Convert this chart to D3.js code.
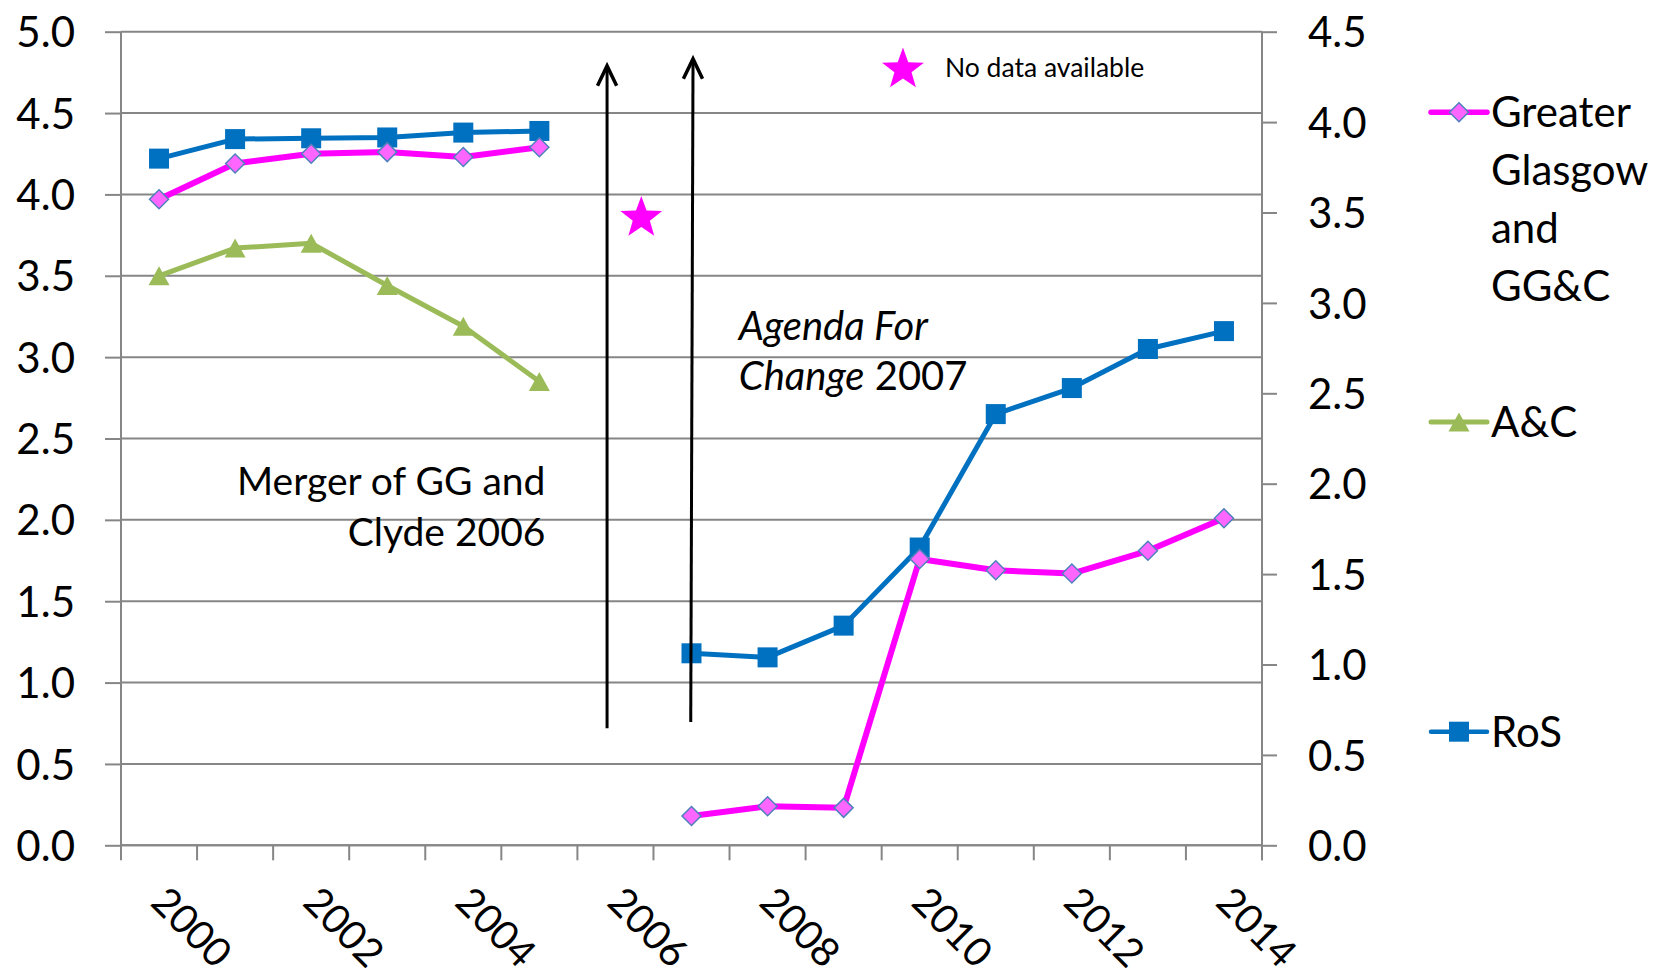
<!DOCTYPE html>
<html>
<head>
<meta charset="utf-8">
<script src="https://cdn.jsdelivr.net/npm/d3@7"></script>
<style>
  html, body { margin: 0; padding: 0; background: #fff; }
  svg { display: block; font-family: Lato, "Open Sans", sans-serif; }
</style>
</head>
<body>
<svg id="chart" width="1659" height="974"></svg>
<script>
// ---------------- data ----------------
const years = ["2000","2001","2002","2003","2004","2005","2006","2007","2008","2009","2010","2011","2012","2013","2014"];
const xTickLabels = ["2000","2002","2004","2006","2008","2010","2012","2014"];
const leftTicks = [0,0.5,1,1.5,2,2.5,3,3.5,4,4.5,5];
const rightTicks = [0,0.5,1,1.5,2,2.5,3,3.5,4,4.5];

const ggValues  = [3.97, 4.19, 4.25, 4.26, 4.23, 4.29, null, 0.18, 0.24, 0.23, 1.76, 1.69, 1.67, 1.81, 2.01];
const acValues  = [3.50, 3.67, 3.70, 3.44, 3.19, 2.85, null, null, null, null, null, null, null, null, null];
const rosValues = [4.22, 4.34, 4.345, 4.35, 4.38, 4.39, null, 1.18, 1.155, 1.35, 1.83, 2.65, 2.81, 3.05, 3.16];

const seriesNames = ["Greater Glasgow and GG&C", "A&C", "RoS"];
const legendLines = [["Greater","Glasgow","and","GG&C"],["A&C"],["RoS"]];

// annotations in data units (year position, left-axis value)
const arrowAnn = [
  {x0: 2005.89, v0: 0.72,  x1: 2005.89, v1: 4.79},
  {x0: 2006.99, v0: 0.758, x1: 2007.02, v1: 4.833}
];
const starAnn = [{x: 2006.34, v: 3.868}];
const noDataKey = {x: 2009.78, v: 4.78, label: "No data available"};
const mergerText = {x: 2005.08, v: [2.153, 1.837], lines: ["Merger of GG and", "Clyde 2006"]};
const agendaText = {x: 2007.62, v: [3.106, 2.799]};

// ---------------- layout ----------------
const svg = d3.select("#chart");
const L = 121, R = 1262, T = 31.7, B = 845.3;
const x = d3.scaleBand().domain(years).range([L, R]).padding(0);
const xLin = d3.scaleLinear().domain([1999.5, 2014.5]).range([L, R]);
const yL = d3.scaleLinear().domain([0, 5]).range([B, T]);
const yR = d3.scaleLinear().domain([0, 4.5]).range([B, T]);
const cx = d => x(d) + x.bandwidth() / 2;

const gridColor = "#868686";

// gridlines
svg.append("g").selectAll("line").data(leftTicks).join("line")
  .attr("x1", L).attr("x2", R)
  .attr("y1", d => yL(d)).attr("y2", d => yL(d))
  .attr("stroke", gridColor).attr("stroke-width", 2);

// left axis
const gLeft = svg.append("g").attr("transform", `translate(${L},0)`)
  .call(d3.axisLeft(yL).tickValues(leftTicks).tickSize(16).tickPadding(30).tickFormat(d3.format(".1f")));
gLeft.select(".domain").attr("stroke", gridColor).attr("stroke-width", 2).attr("d", `M0,${T}V${B}`);
gLeft.selectAll(".tick line").attr("stroke", gridColor).attr("stroke-width", 2);
gLeft.selectAll(".tick text").attr("font-size", 42).attr("fill", "#000").attr("font-family", "Lato").attr("dy", "0.36em");

// right axis
const gRight = svg.append("g").attr("transform", `translate(${R},0)`)
  .call(d3.axisRight(yR).tickValues(rightTicks).tickSize(15).tickPadding(31).tickFormat(d3.format(".1f")));
gRight.select(".domain").attr("stroke", gridColor).attr("stroke-width", 2).attr("d", `M0,${T}V${B + 15}`);
gRight.selectAll(".tick line").attr("stroke", gridColor).attr("stroke-width", 2);
gRight.selectAll(".tick text").attr("font-size", 42).attr("fill", "#000").attr("font-family", "Lato").attr("dy", "0.36em");

// bottom axis: ticks at category boundaries
const boundaries = years.map(d => x(d)).concat([x(years[years.length - 1]) + x.step()]);
const gBottom = svg.append("g");
gBottom.append("line").attr("x1", L).attr("x2", R).attr("y1", B).attr("y2", B)
  .attr("stroke", gridColor).attr("stroke-width", 2);
gBottom.selectAll("line.tk").data(boundaries).join("line").attr("class", "tk")
  .attr("x1", d => d).attr("x2", d => d).attr("y1", B).attr("y2", B + 15)
  .attr("stroke", gridColor).attr("stroke-width", 2);
gBottom.selectAll("text").data(xTickLabels).join("text")
  .attr("transform", d => `translate(${cx(d) - 10},${B + 59}) rotate(45)`)
  .attr("font-size", 40).attr("font-family", "Lato").attr("fill", "#000")
  .text(d => d);

// ---------------- series ----------------
const colors = {gg: "#FF00FF", ac: "#9BBB59", ros: "#0070C0"};
const lineGen = d3.line().defined(d => d.v != null).x(d => cx(d.year)).y(d => yL(d.v));
const toPts = arr => years.map((y, i) => ({year: y, v: arr[i]}));

const diamondPath = (s) => `M0,${-s}L${s},0L0,${s}L${-s},0Z`;
const squarePath = (s) => `M${-s},${-s}H${s}V${s}H${-s}Z`;
const trianglePath = (w, h) => `M0,${-h/2}L${w/2},${h/2}L${-w/2},${h/2}Z`;

function drawSeries(arr, color, width, markerD, mFill, mStroke, mStrokeW) {
  const pts = toPts(arr);
  svg.append("path").datum(pts).attr("d", lineGen)
    .attr("fill", "none").attr("stroke", color).attr("stroke-width", width)
    .attr("stroke-linejoin", "round");
  svg.append("g").selectAll("path").data(pts.filter(d => d.v != null)).join("path")
    .attr("transform", d => `translate(${cx(d.year)},${yL(d.v)})`)
    .attr("d", markerD).attr("fill", mFill)
    .attr("stroke", mStroke).attr("stroke-width", mStrokeW);
}
drawSeries(acValues, colors.ac, 5, trianglePath(21, 19), colors.ac, "none", 0);
drawSeries(rosValues, colors.ros, 5, squarePath(10), colors.ros, "none", 0);
drawSeries(ggValues, colors.gg, 6, diamondPath(9.5), "#FF66FF", "#4F81BD", 1.5);

// ---------------- annotations ----------------
function starPath(R, r) {
  let p = "";
  for (let i = 0; i < 10; i++) {
    const rad = i % 2 === 0 ? R : r;
    const a = -Math.PI / 2 + i * Math.PI / 5;
    p += (i === 0 ? "M" : "L") + (rad * Math.cos(a)).toFixed(2) + "," + (rad * Math.sin(a)).toFixed(2);
  }
  return p + "Z";
}
svg.append("g").selectAll("path").data(starAnn.concat([noDataKey])).join("path")
  .attr("transform", d => `translate(${xLin(d.x)},${yL(d.v) + 2})`)
  .attr("d", starPath(22, 9)).attr("fill", "#FF00FF");

svg.append("text").attr("x", xLin(noDataKey.x) + 42).attr("y", yL(noDataKey.v) + 10)
  .attr("font-size", 26.5).attr("font-family", "Lato").attr("fill", "#000").text(noDataKey.label);

// arrows
arrowAnn.forEach(a => {
  const X0 = xLin(a.x0), Y0 = yL(a.v0), X1 = xLin(a.x1), Y1 = yL(a.v1);
  svg.append("line").attr("x1", X0).attr("y1", Y0).attr("x2", X1).attr("y2", Y1 + 2)
    .attr("stroke", "#000").attr("stroke-width", 3);
  const ang = Math.atan2(Y1 - Y0, X1 - X0);
  const len = 22, spread = 0.45;
  const p1 = [X1 - len * Math.cos(ang - spread), Y1 - len * Math.sin(ang - spread)];
  const p2 = [X1 - len * Math.cos(ang + spread), Y1 - len * Math.sin(ang + spread)];
  svg.append("path").attr("d", `M${p1}L${X1},${Y1}L${p2}`)
    .attr("fill", "none").attr("stroke", "#000").attr("stroke-width", 3.5)
    .attr("stroke-linejoin", "miter");
});

// merger text
svg.append("g").selectAll("text").data(mergerText.lines).join("text")
  .attr("x", xLin(mergerText.x)).attr("y", (d, i) => yL(mergerText.v[i]))
  .attr("text-anchor", "end").attr("font-size", 39).attr("font-family", "Lato").attr("fill", "#000")
  .text(d => d);

// agenda text
const ag1 = svg.append("text").attr("x", xLin(agendaText.x)).attr("y", yL(agendaText.v[0]))
  .attr("font-size", 40).attr("font-family", "Lato").attr("fill", "#000");
ag1.append("tspan").attr("font-style", "italic").text("Agenda For");
const ag2 = svg.append("text").attr("x", xLin(agendaText.x)).attr("y", yL(agendaText.v[1]))
  .attr("font-size", 40).attr("font-family", "Lato").attr("fill", "#000");
ag2.append("tspan").attr("font-style", "italic").text("Change");
ag2.append("tspan").text(" 2007");

// ---------------- legend ----------------
const legendY = [112.3, 422, 731.7];
const legendMarkers = [
  {d: diamondPath(9.5), fill: "#FF66FF", stroke: "#4F81BD", sw: 1.5, color: colors.gg, lw: 5.5},
  {d: trianglePath(21, 19), fill: colors.ac, stroke: "none", sw: 0, color: colors.ac, lw: 5},
  {d: squarePath(10), fill: colors.ros, stroke: "none", sw: 0, color: colors.ros, lw: 4.5}
];
const lg = svg.append("g");
seriesNames.forEach((name, i) => {
  const m = legendMarkers[i];
  const y0 = legendY[i];
  lg.append("line").attr("x1", 1431).attr("x2", 1487).attr("y1", y0).attr("y2", y0)
    .attr("stroke", m.color).attr("stroke-width", m.lw).attr("stroke-linecap", "round");
  lg.append("path").attr("transform", `translate(1459,${y0})`).attr("d", m.d)
    .attr("fill", m.fill).attr("stroke", m.stroke).attr("stroke-width", m.sw);
  const t = lg.append("text").attr("font-size", 42).attr("font-family", "Lato").attr("fill", "#000");
  legendLines[i].forEach((ln, j) => {
    t.append("tspan").attr("x", 1491).attr("y", y0 + 15 + j * 58).text(ln);
  });
});
</script>
</body>
</html>
